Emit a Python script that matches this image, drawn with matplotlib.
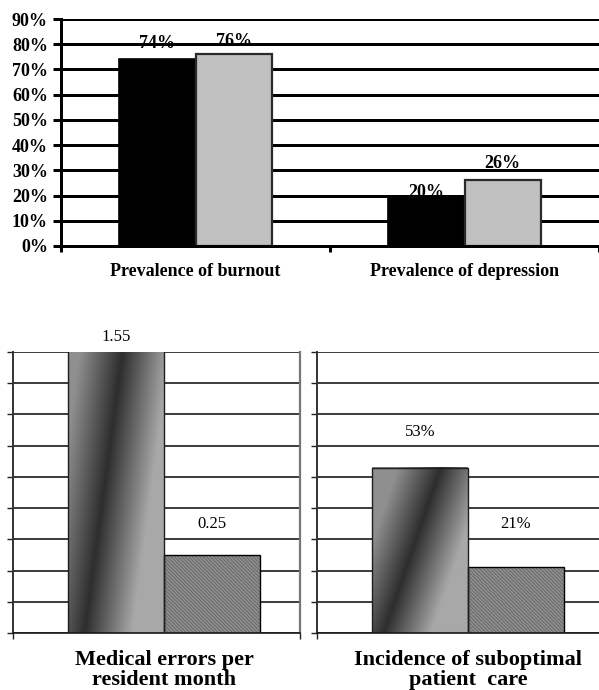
import matplotlib
matplotlib.use("Agg")
import matplotlib.pyplot as plt
import matplotlib.transforms as mtransforms
import numpy as np

# top panel: prevalence (residents vs comparison group)
prev_categories = ["Prevalence of burnout", "Prevalence of depression"]
prev_group_a = [0.74, 0.20]
prev_group_b = [0.76, 0.26]

# bottom panels: outcomes
errors_values = [1.55, 0.25]
errors_labels = ["1.55", "0.25"]
care_values = [0.53, 0.21]
care_labels = ["53%", "21%"]
errors_title = "Medical errors per\nresident month"
care_title = "Incidence of suboptimal\npatient  care"

W, H = 599, 690
SERIF = ["Liberation Serif", "DejaVu Serif"]
plt.rcParams["font.family"] = SERIF
plt.rcParams["hatch.linewidth"] = 0.35


def box(l, t, r, b):
    return [l / W, 1 - b / H, (r - l) / W, (b - t) / H]


def px(n):
    return n * 72 / 100


fig = plt.figure(figsize=(W / 100, H / 100), dpi=100)

# ---------------- top chart ----------------
ax = fig.add_axes(box(61, 19, 599, 246))
bw = 0.284
xs = np.arange(len(prev_categories))
ax.bar(xs - bw / 2, prev_group_a, bw, color="black", edgecolor="black",
       linewidth=1.2, zorder=2)
ax.bar(xs + bw / 2, prev_group_b, bw, color="#c0c0c0", edgecolor="#2a2a2a",
       linewidth=1.6, zorder=2)

# value labels sit behind the grid and bars
label_offsets = [[16, 3], [13, 17]]  # px above bar top, per series
for i in range(len(xs)):
    for j, (vals, dx) in enumerate([(prev_group_a, -bw / 2), (prev_group_b, bw / 2)]):
        ax.annotate(f"{int(round(vals[i] * 100))}%", (xs[i] + dx, vals[i]),
                    xytext=(0, px(label_offsets[j][i])), textcoords="offset points",
                    ha="center", va="center", fontsize=13, fontweight="bold",
                    zorder=1.2)

ax.set_xlim(-0.5, -0.5 + 538 / 271)
ax.set_ylim(0, 0.9)
ticks = np.round(np.arange(0, 0.91, 0.1), 2)
ax.set_yticks(ticks)
ax.set_yticklabels([f"{int(round(t * 100))}%" for t in ticks],
                   fontsize=13, fontweight="bold")
ax.set_xticks([-0.5, 0.5, 1.5])
ax.set_xticklabels([])
ax.tick_params(axis="y", direction="out", length=px(8), width=px(3), pad=px(5))
ax.tick_params(axis="x", direction="out", length=px(6), width=px(3))
ax.yaxis.grid(True, color="black", linewidth=px(3))
ax.set_axisbelow("line")
for s in ["top", "right"]:
    ax.spines[s].set_visible(False)
ax.spines["left"].set_linewidth(px(3))
ax.spines["bottom"].set_linewidth(px(3))
trans = mtransforms.blended_transform_factory(ax.transData, ax.transAxes)
for i, name in enumerate(prev_categories):
    ax.text(xs[i], (246 - 272) / 227, name, transform=trans, ha="center",
            va="center", fontsize=13, fontweight="bold")


# ---------------- bottom charts ----------------
def shaded_bar(ax, x0, w, h, ymax, base, slope):
    top = min(h, ymax)
    s = np.linspace(0, 1, 120)
    t = np.linspace(0, 1, 240)
    S, T = np.meshgrid(s, t)
    d = S - (base + slope * T)
    v = np.where(d < 0, 0.18 + 0.38 * np.clip(-d / 0.45, 0, 1),
                 0.18 + 0.48 * np.clip(d / 0.5, 0, 1))
    ax.imshow(v, cmap="gray", vmin=0, vmax=1, extent=(x0, x0 + w, 0, top),
              origin="lower", aspect="auto", interpolation="bilinear", zorder=2)
    ax.bar(x0 + w / 2, h, w, fill=False, edgecolor="#1e1e1e", linewidth=1.0,
           zorder=3)


def outcome_panel(rect, xmax, values, labels, offsets, title, base, slope,
                  right_spine):
    a = fig.add_axes(rect)
    w = 96 / 302
    shaded_bar(a, -w, w, values[0], 0.9, base, slope)
    a.bar(w / 2, values[1], w, color="white", edgecolor="black", linewidth=1.0,
          hatch="\\" * 24, zorder=2)
    for k, (v, lab) in enumerate(zip(values, labels)):
        xc = -w / 2 if k == 0 else w / 2
        a.annotate(lab, (xc, min(v, 0.9)), xytext=(0, px(offsets[k])),
                   textcoords="offset points", ha="center", va="center",
                   fontsize=12, annotation_clip=False)
    a.set_xlim(-0.5, xmax)
    a.set_ylim(0, 0.9)
    a.set_yticks(np.arange(0, 0.91, 0.1))
    a.set_yticklabels([])
    a.set_xticks([-0.5, xmax] if right_spine else [-0.5])
    a.set_xticklabels([])
    a.tick_params(direction="out", length=px(6), width=1.0, color="#222222")
    a.yaxis.grid(True, color="#1a1a1a", linewidth=1.2)
    a.set_axisbelow(True)
    a.spines["top"].set_visible(False)
    a.spines["right"].set_visible(right_spine)
    a.spines["right"].set_color("#777777")
    a.spines["right"].set_linewidth(1.6)
    a.spines["left"].set_color("#333333")
    a.spines["left"].set_linewidth(1.4)
    a.spines["bottom"].set_color("#1a1a1a")
    a.spines["bottom"].set_linewidth(1.2)
    tr = mtransforms.blended_transform_factory(a.transData, a.transAxes)
    a.text(0, (633 - 670) / 281, title, transform=tr, ha="center", va="center",
           fontsize=16, fontweight="bold", linespacing=1.05)
    return a


outcome_panel(box(13, 352, 300, 633), -0.5 + 287 / 302, errors_values,
              errors_labels, [15, 31], errors_title, 0.17, 0.4, True)
outcome_panel(box(317, 352, 619, 633), 0.5, care_values, care_labels,
              [36, 43], care_title, 0.12, 0.6, False)

fig.savefig("out.png", dpi=100)
